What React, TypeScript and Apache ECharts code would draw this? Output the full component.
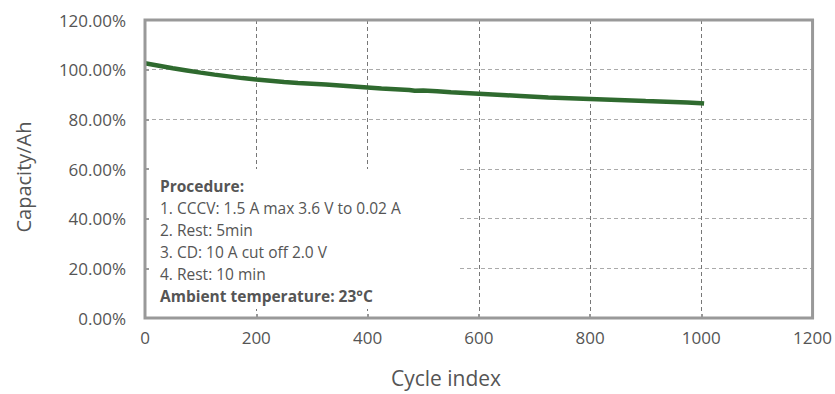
import React, { useEffect, useRef } from "react";
import * as echarts from "echarts";

const cycles = [0, 25, 50, 75, 100, 125, 150, 175, 200, 225, 250, 275, 300, 325, 350, 375, 400, 425, 450, 475, 485, 500, 525, 550, 575, 600, 625, 650, 675, 700, 725, 750, 775, 800, 825, 850, 875, 900, 925, 950, 975, 1000, 1005];
const capacity = [102.6, 101.6, 100.6, 99.7, 98.8, 98.0, 97.3, 96.6, 96.0, 95.5, 95.0, 94.6, 94.3, 94.0, 93.6, 93.2, 92.8, 92.4, 92.1, 91.8, 91.5, 91.6, 91.3, 90.9, 90.6, 90.3, 90.0, 89.7, 89.4, 89.1, 88.8, 88.6, 88.4, 88.2, 88.0, 87.8, 87.6, 87.4, 87.2, 87.0, 86.8, 86.5, 86.4];
const procedureLines = [
  "1. CCCV: 1.5 A max 3.6 V to 0.02 A",
  "2. Rest: 5min",
  "3. CD: 10 A cut off 2.0 V",
  "4. Rest: 10 min",
];
const procedureTitle = "Procedure:";
const ambientText = "Ambient temperature: 23°C";
const xName = "Cycle index";
const yName = "Capacity/Ah";

const FONT = "'Open Sans', 'Noto Sans', sans-serif";
const TXT = "#555555";

export default function App() {
  const ref = useRef<HTMLDivElement>(null);
  useEffect(() => {
    if (!ref.current) return;
    const chart = echarts.init(ref.current, undefined, { renderer: "svg" });
    const data = cycles.map((c, i) => [c, capacity[i]]);
    const textEls: any[] = [];
    const lineY = [186, 208, 230, 252, 274, 296];
    const allLines = [procedureTitle, ...procedureLines, ambientText];
    allLines.forEach((t, i) => {
      const bold = i === 0 || i === allLines.length - 1;
      textEls.push({
        type: "text",
        x: 160,
        y: lineY[i],
        z: 20,
        style: {
          text: t,
          fill: TXT,
          font: `${bold ? "bold " : ""}15.5px ${FONT}`,
          textVerticalAlign: "middle",
        },
      });
    });
    chart.setOption({
      animation: false,
      grid: {
        left: 145,
        right: 20,
        top: 20,
        bottom: 76,
        show: true,
        borderColor: "#999999",
        borderWidth: 3,
        z: 10,
      },
      xAxis: {
        type: "value",
        min: 0,
        max: 1200,
        interval: 200,
        axisLine: { show: false },
        axisTick: { show: true, inside: true, length: 4, lineStyle: { color: "#999", width: 2 } },
        axisLabel: { color: TXT, fontSize: 17, fontFamily: FONT, margin: 11, formatter: (v: number) => String(v) },
        splitLine: { show: true, lineStyle: { color: "#777", type: [4, 3], width: 1 } },
      },
      yAxis: {
        type: "value",
        min: 0,
        max: 120,
        interval: 20,
        axisLine: { show: false },
        axisTick: { show: true, inside: true, length: 4, lineStyle: { color: "#999", width: 2 } },
        axisLabel: {
          color: TXT,
          fontSize: 17,
          fontFamily: FONT,
          margin: 19,
          formatter: (v: number) => v.toFixed(2) + "%",
        },
        splitLine: { show: true, lineStyle: { color: "#aaa", type: [4, 3], width: 1 } },
      },
      graphic: [
        {
          type: "rect",
          shape: { x: 149, y: 169, width: 311, height: 140 },
          style: { fill: "#ffffff" },
          z: 5,
        },
        {
          type: "text",
          x: 446,
          y: 378,
          style: { text: xName, fill: TXT, font: `21px ${FONT}`, textAlign: "center", textVerticalAlign: "middle" },
        },
        {
          type: "text",
          x: 23,
          y: 177,
          rotation: Math.PI / 2,
          style: { text: yName, fill: TXT, font: `20px ${FONT}`, textAlign: "center", textVerticalAlign: "middle" },
        },
        ...textEls,
      ],
      series: [
        {
          type: "line",
          data,
          showSymbol: false,
          symbol: "none",
          smooth: false,
          lineStyle: { color: "#2f6a2f", width: 4.5 },
          z: 8,
        },
      ],
    });
    return () => chart.dispose();
  }, []);
  return <div ref={ref} style={{ width: 835, height: 394, position: "absolute", left: 0, top: 0 }} />;
}
